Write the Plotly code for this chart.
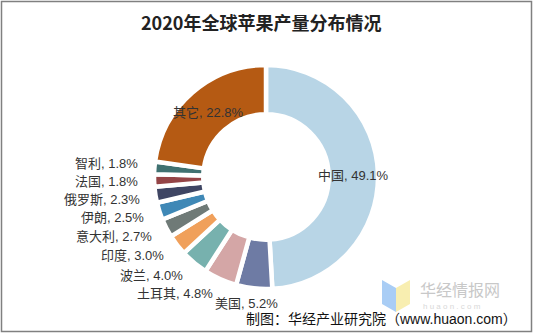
import math
import plotly.graph_objects as go

countries = ["中国", "美国", "土耳其", "波兰", "印度", "意大利", "伊朗", "俄罗斯", "法国", "智利", "其它"]
shares = [49.1, 5.2, 4.8, 4.0, 3.0, 2.7, 2.5, 2.3, 1.8, 1.8, 22.8]
colors = ["#b8d5e6", "#6e7ba4", "#d4a6a6", "#77b1ae", "#f0a05b", "#6f7a77",
          "#3f88b6", "#3e4563", "#944446", "#3f7171", "#b55a13"]
inside = [True] + [False] * 9 + [True]

W, H = 533, 333
CX, CY, R = 266, 177, 112
HOLE = 0.56

fig = go.Figure()
fig.add_trace(go.Pie(
    labels=countries,
    values=shares,
    textinfo="none",
    sort=False,
    direction="clockwise",
    rotation=0,
    hole=HOLE,
    marker=dict(colors=colors, line=dict(color="white", width=4.5)),
    domain=dict(x=[(CX - R) / W, (CX + R) / W], y=[1 - (CY + R) / H, 1 - (CY - R) / H]),
    showlegend=False,
))

# label placement derived from slice mid-angles
total = sum(shares)
cum = 0.0
label_info = []
for c, v, ins in zip(countries, shares, inside):
    mid = (cum + v / 2) / total * 2 * math.pi
    cum += v
    s, co = math.sin(mid), math.cos(mid)
    label_info.append([c, v, ins, s, co])

annotations = []
outside_pts = []
for c, v, ins, s, co in label_info:
    txt = f"{c}, {v:.1f}%"
    if ins:
        r = R * (1 + HOLE) / 2
        px, py = CX + r * s, CY - r * co + 1
        annotations.append(dict(text=txt, x=px / W, y=1 - py / H, xanchor="center", yanchor="middle"))
    else:
        r = R + 14
        px, py = CX + r * s, CY - r * co + 2
        outside_pts.append([txt, px, py, s])

# spread outside labels vertically to avoid overlap (bottom to top)
left = [p for p in outside_pts if p[3] < -0.3]
for i in range(1, len(left)):
    if left[i][2] > left[i - 1][2] - 18:
        left[i][2] = left[i - 1][2] - 18
for txt, px, py, s in outside_pts:
    if s < -0.3:
        annotations.append(dict(text=txt, x=px / W, y=1 - py / H, xanchor="right", yanchor="middle"))
    else:
        annotations.append(dict(text=txt, x=(px - 6) / W, y=1 - (py - 1) / H, xanchor="center", yanchor="middle"))

lab_font = dict(family="Liberation Sans, Noto Sans CJK SC", size=13, color="#333333")
for a in annotations:
    a.update(xref="paper", yref="paper", showarrow=False, font=lab_font)

annotations += [
    dict(text="<b>2020年全球苹果产量分布情况</b>", x=0.49, y=1 - 22 / H, xref="paper", yref="paper",
         yanchor="middle", showarrow=False,
         font=dict(family="Noto Sans CJK SC", size=18, color="#222222")),
    dict(text="华经情报网", x=418 / W, y=1 - 289 / H, xref="paper", yref="paper", xanchor="left",
         yanchor="middle", showarrow=False,
         font=dict(family="Noto Sans CJK SC", size=16, color="#c8c8c8")),
    dict(text="h u a o n . c o m", x=421 / W, y=1 - 306 / H, xref="paper", yref="paper", xanchor="left",
         yanchor="middle", showarrow=False,
         font=dict(family="Liberation Sans", size=8, color="#d8d8d8")),
    dict(text="制图：华经产业研究院（www.huaon.com）", x=519 / W, y=1 - 319 / H, xref="paper", yref="paper",
         xanchor="right", yanchor="middle", showarrow=False,
         font=dict(family="Liberation Sans, Noto Sans CJK SC", size=14, color="#111111")),
]

fig.update_layout(
    width=W, height=H,
    margin=dict(l=0, r=0, t=0, b=0),
    paper_bgcolor="white",
    font=dict(family="Liberation Sans, Noto Sans CJK SC", color="#333333"),
    shapes=[
        dict(type="rect", xref="paper", yref="paper", x0=1.5 / W, x1=1 - 1.5 / W, y0=1.5 / H, y1=1 - 1.5 / H,
             line=dict(color="#808080", width=1.5), fillcolor="rgba(0,0,0,0)", layer="below"),
        dict(type="path", xref="paper", yref="paper",
             path=f"M {382/W},{1-280/H} L {396/W},{1-288/H} L {396/W},{1-312/H} L {382/W},{1-304/H} Z",
             line=dict(width=0), fillcolor="#a9cdf5", layer="below"),
        dict(type="path", xref="paper", yref="paper",
             path=f"M {396/W},{1-288/H} L {410/W},{1-280/H} L {410/W},{1-304/H} L {396/W},{1-312/H} Z",
             line=dict(width=0), fillcolor="#f8eeb0", layer="below"),
    ],
    annotations=annotations,
)

fig.write_html("out.html")
